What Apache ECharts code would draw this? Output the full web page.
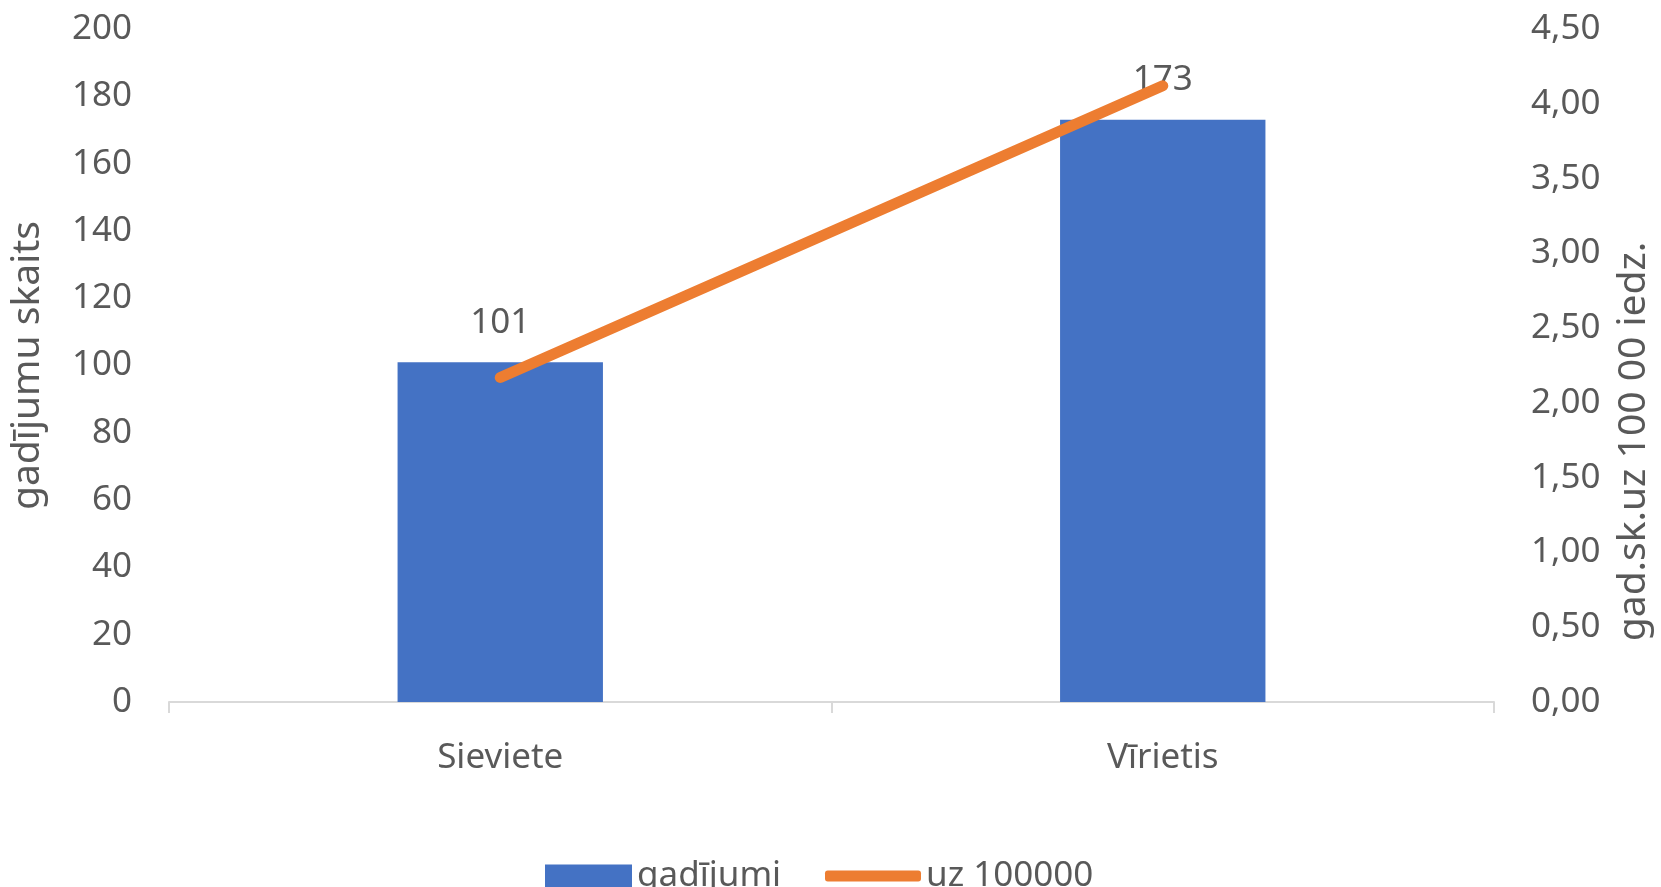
<!DOCTYPE html>
<html>
<head>
<meta charset="utf-8">
<script src="https://cdn.jsdelivr.net/npm/echarts@6/dist/echarts.min.js"></script>
<style>html,body{margin:0;padding:0;background:#fff}#c{width:1661px;height:887px}</style>
</head>
<body>
<div id="c"></div>
<script>
const categories = ['Sieviete', 'Vīrietis'];
const cases = [101, 173];
const ratePer100k = [2.17, 4.12];
const leftTicks = {min: 0, max: 200, interval: 20};
const rightTicks = {min: 0, max: 4.5, interval: 0.5};

const FONT = '"Noto Sans", sans-serif';
const TXT = '#595959';
const chart = echarts.init(document.getElementById('c'));
chart.setOption({
  animation: false,
  textStyle: {fontFamily: FONT, color: TXT},
  grid: {left: 159, right: 145, top: 29, bottom: 185},
  legend: [
    {data: [{name: 'gadījumi', icon: 'rect'}], left: 540, top: 851, itemWidth: 87, itemHeight: 23, itemGap: 9,
     textStyle: {fontFamily: FONT, fontSize: 35, color: TXT, lineHeight: 40}},
    {data: [{name: 'uz 100000', icon: 'roundRect'}], left: 820, top: 851, itemWidth: 96, itemHeight: 11, itemGap: 9,
     textStyle: {fontFamily: FONT, fontSize: 35, color: TXT, lineHeight: 40}}
  ],
  xAxis: {
    type: 'category', data: categories,
    axisLine: {lineStyle: {color: '#d9d9d9', width: 2}},
    axisTick: {show: true, length: 11, lineStyle: {color: '#d9d9d9', width: 2}},
    axisLabel: {fontFamily: FONT, fontSize: 35, color: TXT, margin: 36, lineHeight: 40}
  },
  yAxis: [
    {
      type: 'value', min: leftTicks.min, max: leftTicks.max, interval: leftTicks.interval,
      name: 'gadījumu skaits', nameLocation: 'middle', nameGap: 122,
      nameTextStyle: {fontFamily: FONT, fontSize: 39, color: TXT},
      splitLine: {show: false}, axisLine: {show: false}, axisTick: {show: false},
      axisLabel: {fontFamily: FONT, fontSize: 35, color: TXT, margin: 37}
    },
    {
      type: 'value', min: rightTicks.min, max: rightTicks.max, interval: rightTicks.interval,
      name: 'gad.sk.uz 100 00 iedz.', nameLocation: 'middle', nameGap: 120,
      nameTextStyle: {fontFamily: FONT, fontSize: 39, color: TXT, padding: [0, 152, 0, 0]},
      splitLine: {show: false}, axisLine: {show: false}, axisTick: {show: false},
      axisLabel: {fontFamily: FONT, fontSize: 35, color: TXT, margin: 37,
        formatter: v => v.toFixed(2).replace('.', ',')}
    }
  ],
  series: [
    {
      name: 'gadījumi', type: 'bar', data: cases, barWidth: '31%', yAxisIndex: 0,
      itemStyle: {color: '#4472C4'},
      label: {show: true, position: 'top', distance: 22, fontFamily: FONT, fontSize: 35, color: TXT}
    },
    {
      name: 'uz 100000', type: 'line', data: ratePer100k, yAxisIndex: 1,
      symbol: 'none', itemStyle: {color: '#ED7D31'},
      lineStyle: {color: '#ED7D31', width: 11, cap: 'round'}
    }
  ]
});
</script>
</body>
</html>
